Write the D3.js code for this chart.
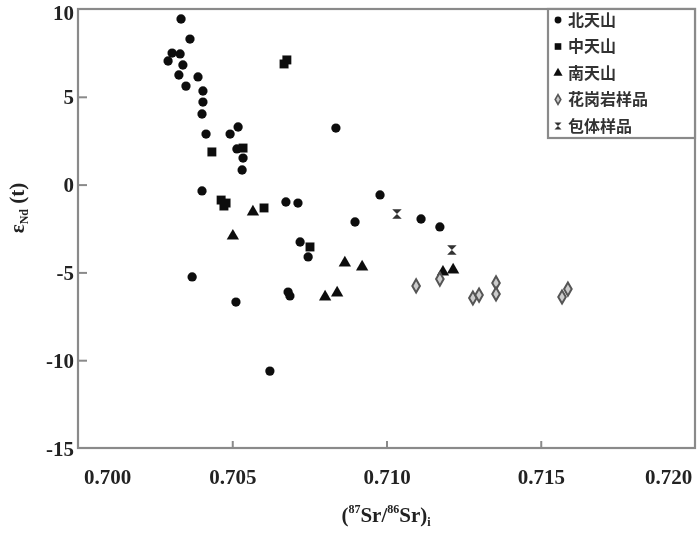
<!DOCTYPE html>
<html><head><meta charset="utf-8">
<script src="https://cdn.jsdelivr.net/npm/d3@7/dist/d3.min.js"></script>
<style>body{margin:0;background:#fff;} svg{display:block;}</style>
</head><body>
<svg id="c" width="700" height="537"></svg>
<script>
// ---- data ----
const xTicks = [0.700, 0.705, 0.710, 0.715, 0.720];
const xTickLabels = ["0.700", "0.705", "0.710", "0.715", "0.720"];
const yTicks = [10, 5, 0, -5, -10, -15];
const yTickLabels = ["10", "5", "0", "-5", "-10", "-15"];
const seriesNames = ["北天山", "中天山", "南天山", "花岗岩样品", "包体样品"];

const beiTianshan = [
  [0.70334, 9.43], [0.70363, 8.29], [0.70305, 7.49], [0.70331, 7.44], [0.70292, 7.04],
  [0.70340, 6.81], [0.70327, 6.24], [0.70389, 6.13], [0.70350, 5.61], [0.70405, 5.33],
  [0.70405, 4.70], [0.70402, 4.02], [0.70519, 3.28], [0.70493, 2.88], [0.70415, 2.88],
  [0.70515, 2.03], [0.70535, 1.51], [0.70532, 0.83], [0.70402, -0.36], [0.70674, -0.99],
  [0.70713, -1.05], [0.70720, -3.27], [0.70746, -4.12], [0.70370, -5.26], [0.70681, -6.12],
  [0.70687, -6.34], [0.70512, -6.69], [0.70622, -10.62], [0.70836, 3.22], [0.70979, -0.59],
  [0.70898, -2.13], [0.71112, -1.96], [0.71173, -2.41]
];
const zhongTianshan = [
  [0.70434, 1.86], [0.70535, 2.08], [0.70464, -0.88], [0.70480, -1.05], [0.70473, -1.22],
  [0.70603, -1.33], [0.70752, -3.55], [0.70668, 6.87], [0.70677, 7.10]
];
const nanTianshan = [
  [0.70567, -1.56], [0.70502, -2.93], [0.70865, -4.46], [0.70921, -4.69], [0.71183, -4.98],
  [0.71216, -4.86], [0.70801, -6.40], [0.70840, -6.17]
];
const graniteSamples = [
  [0.71096, -5.77], [0.71173, -5.38], [0.71280, -6.46], [0.71300, -6.29], [0.71355, -5.60],
  [0.71355, -6.23], [0.71569, -6.40], [0.71588, -5.95]
];
const enclaveSamples = [
  [0.71034, -1.67], [0.71212, -3.72]
];

// ---- chart ----
const svg = d3.select("#c");
const defs = svg.append("defs");
defs.append("filter").attr("id", "soft").attr("x", "-5%").attr("y", "-5%").attr("width", "110%").attr("height", "110%")
  .append("feGaussianBlur").attr("stdDeviation", 0.55);
const root = svg.append("g").attr("filter", "url(#soft)");

const L = 78, R = 695, T = 9, B = 448;
const x = d3.scaleLinear().domain([0.700, 0.720]).range([L, R]);
const y = d3.scaleLinear().domain([-15, 10]).range([B, T]);
const axisCol = "#8a8a8a";
const serif = "'Liberation Serif','DejaVu Serif',serif";
const cjk = "'Noto Sans CJK SC','Noto Sans CJK JP',sans-serif";

const hourglass = {
  draw(ctx, size) {
    const r = Math.sqrt(size) / 2;
    ctx.moveTo(-r, -r); ctx.lineTo(r, -r); ctx.lineTo(-r, r); ctx.lineTo(r, r); ctx.closePath();
  }
};

const styles = [
  {data: beiTianshan, type: d3.symbolCircle, size: 68, fill: "#111", stroke: "none"},
  {data: zhongTianshan, type: d3.symbolSquare, size: 80, fill: "#111", stroke: "none"},
  {data: nanTianshan, type: d3.symbolTriangle, size: 66, fill: "#111", stroke: "none"},
  {data: graniteSamples, type: d3.symbolDiamond, size: 50, fill: "#ccc", stroke: "#555"},
  {data: enclaveSamples, type: hourglass, size: 90, fill: "#333", stroke: "none"}
];

// axes
const xAxis = d3.axisBottom(x).tickValues(xTicks).tickSize(-7).tickFormat((d, i) => xTickLabels[i]).tickPadding(21);
const gx = root.append("g").attr("transform", `translate(0,${B})`).call(xAxis);
const yAxis = d3.axisLeft(y).tickValues(yTicks).tickSize(-9).tickFormat((d, i) => yTickLabels[i]).tickPadding(4);
const gy = root.append("g").attr("transform", `translate(${L},0)`).call(yAxis);
[gx, gy].forEach(g => {
  g.select(".domain").remove();
  g.selectAll(".tick line").attr("stroke", axisCol).attr("stroke-width", 2);
  g.selectAll("text").attr("font-family", serif).attr("font-size", 21).attr("fill", "#222").attr("font-weight", "bold");
});
gx.selectAll(".tick").filter(d => d === 0.700 || d === 0.720).select("line").remove();
gx.selectAll(".tick text").attr("dx", d => d === 0.700 ? 29 : (d === 0.720 ? -27 : 0));
gy.selectAll(".tick").filter(d => d === 10 || d === -15).select("line").remove();
gy.selectAll(".tick text").attr("dy", d => d === 10 ? "0.5em" : "0.34em");

// frame
root.append("rect").attr("x", L).attr("y", T).attr("width", R - L).attr("height", B - T)
  .attr("fill", "none").attr("stroke", axisCol).attr("stroke-width", 2.2);

// points
styles.forEach(s => {
  root.append("g").selectAll("path").data(s.data).join("path")
    .attr("transform", d => `translate(${x(d[0])},${y(d[1])})`)
    .attr("d", d3.symbol().type(s.type).size(s.size))
    .attr("fill", s.fill).attr("stroke", s.stroke).attr("stroke-width", 2);
});

// legend
const lg = root.append("g");
lg.append("rect").attr("x", 548).attr("y", T).attr("width", R - 548).attr("height", 129)
  .attr("fill", "#fff").attr("stroke", axisCol).attr("stroke-width", 2.2);
seriesNames.forEach((n, i) => {
  const yy = 20 + i * 26.5;
  const s = styles[i];
  lg.append("path").attr("transform", `translate(558,${yy})`)
    .attr("d", d3.symbol().type(s.type).size(s.size * 0.55))
    .attr("fill", s.fill).attr("stroke", s.stroke).attr("stroke-width", 1.6);
  lg.append("text").attr("x", 568).attr("y", yy).attr("dy", "0.36em")
    .attr("font-family", cjk).attr("font-size", 16).attr("font-weight", "bold").attr("fill", "#333").text(n);
});

// axis titles
const xt = root.append("text").attr("x", 386).attr("y", 522).attr("text-anchor", "middle")
  .attr("font-family", serif).attr("font-size", 21).attr("font-weight", "bold").attr("fill", "#222");
xt.append("tspan").text("(");
xt.append("tspan").attr("font-size", 12).attr("dy", -9).text("87");
xt.append("tspan").attr("dy", 9).text("Sr/");
xt.append("tspan").attr("font-size", 12).attr("dy", -9).text("86");
xt.append("tspan").attr("dy", 9).text("Sr)");
xt.append("tspan").attr("font-size", 12).attr("dy", 4).text("i");

const yt = root.append("text").attr("transform", "translate(24,208) rotate(-90)").attr("text-anchor", "middle")
  .attr("font-family", serif).attr("font-size", 21).attr("font-weight", "bold").attr("fill", "#222");
yt.append("tspan").text("ε");
yt.append("tspan").attr("font-size", 12).attr("dy", 4).text("Nd");
yt.append("tspan").attr("dy", -4).text(" (t)");
</script>
</body></html>
